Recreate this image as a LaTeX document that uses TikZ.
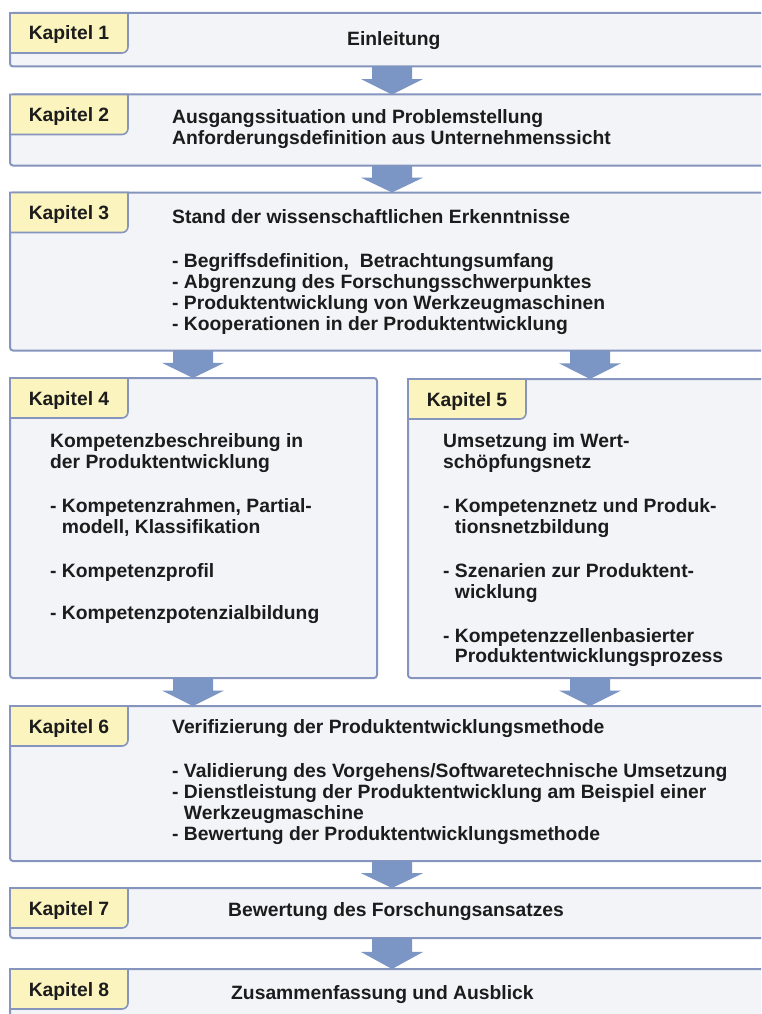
\documentclass[tikz,border=0pt]{standalone}
\usepackage{fontspec}
\setmainfont{Liberation Sans}
\usetikzlibrary{calc}

\definecolor{boxfill}{HTML}{F3F4F8}
\definecolor{boxline}{HTML}{8595BD}
\definecolor{kapfill}{HTML}{FBF4BE}
\definecolor{arrowfill}{HTML}{7B96C4}
\definecolor{textcol}{HTML}{1C1C1C}

\tikzset{
  chapbox/.style={draw=boxline, fill=boxfill, line width=2pt, rounded corners=3pt,
    inner sep=0pt, outer sep=0pt, anchor=north west},
  kapframe/.style={draw=boxline, fill=kapfill, line width=1.6pt},
  kaptext/.style={anchor=base, inner sep=0pt, text=textcol,
    font=\fontsize{19.3}{20.8}\selectfont\bfseries},
  txt/.style={anchor=base west, inner sep=0pt, text=textcol,
    font=\fontsize{19.3}{20.8}\selectfont\bfseries},
  blockarrow/.style={fill=arrowfill}
}

% chapter tab: name, left x, top y, label
\newcommand\kapitel[4]{%
  \filldraw[kapframe] (#2,#3) -- (#2+118,#3) -- (#2+118,#3-34)
    arc[start angle=0,end angle=-90,radius=6] -- (#2,#3-40) -- cycle;
  \node[kaptext] (#1) at (#2+59,#3-27) {#4};}

% one line of text: name, x, baseline y, text
\newcommand\txtline[4]{\node[txt] (#1) at (#2,#3) {#4};}

% broad downward arrow between two boxes: upper, lower, x
\newcommand\flowarrow[3]{%
  \fill[blockarrow] let \p1=(#1.south), \p2=(#2.north) in
    ({#3-20},\y1) -- ({#3+20},\y1) -- ({#3+20},{\y1-0.45*(\y1-\y2)})
    -- ({#3+31},{\y1-0.45*(\y1-\y2)}) -- (#3,\y2)
    -- ({#3-31},{\y1-0.45*(\y1-\y2)}) -- ({#3-20},{\y1-0.45*(\y1-\y2)}) -- cycle;}

\newcommand\ind{\phantom{- }}

\begin{document}
\begin{tikzpicture}[x=1pt,y=1pt]
\useasboundingbox (0,0) rectangle (761,-1014);
\clip (0,0) rectangle (761,-1014);
\fill[white] (0,0) rectangle (761,-1014);

% chapter boxes
\node[chapbox, minimum width=762pt, minimum height=53.5pt] (b1) at (10,-13) {};
\node[chapbox, minimum width=762pt, minimum height=71pt] (b2) at (10,-94.5) {};
\node[chapbox, minimum width=762pt, minimum height=158pt] (b3) at (10,-192.5) {};
\node[chapbox, minimum width=367pt, minimum height=300pt] (b4) at (10,-378) {};
\node[chapbox, minimum width=364pt, minimum height=299pt] (b5) at (408,-379) {};
\node[chapbox, minimum width=762pt, minimum height=155pt] (b6) at (10,-706) {};
\node[chapbox, minimum width=762pt, minimum height=50pt] (b7) at (10,-888) {};
\node[chapbox, minimum width=762pt, minimum height=70pt] (b8) at (10,-969) {};

% arrows between chapters
\flowarrow{b1}{b2}{392}
\flowarrow{b2}{b3}{392}
\flowarrow{b3}{b4}{193}
\flowarrow{b3}{b5}{590}
\flowarrow{b4}{b6}{193}
\flowarrow{b5}{b6}{590}
\flowarrow{b6}{b7}{392}
\flowarrow{b7}{b8}{392}

% chapter tabs
\kapitel{k1}{10}{-13}{Kapitel 1}
\kapitel{k2}{10}{-94.5}{Kapitel 2}
\kapitel{k3}{10}{-192.5}{Kapitel 3}
\kapitel{k4}{10}{-378}{Kapitel 4}
\kapitel{k5}{408}{-379}{Kapitel 5}
\kapitel{k6}{10}{-706}{Kapitel 6}
\kapitel{k7}{10}{-888}{Kapitel 7}
\kapitel{k8}{10}{-969}{Kapitel 8}

% Kapitel 1
\txtline{t1}{347}{-46}{Einleitung}

% Kapitel 2
\txtline{t2a}{172}{-124}{Ausgangssituation und Problemstellung}
\txtline{t2b}{172}{-145}{Anforderungsdefinition aus Unternehmenssicht}

% Kapitel 3
\txtline{t3}{172}{-223}{Stand der wissenschaftlichen Erkenntnisse}
\txtline{t3a}{172}{-267}{- Begriffsdefinition,\ \ Betrachtungsumfang}
\txtline{t3b}{172}{-288}{- Abgrenzung des Forschungsschwerpunktes}
\txtline{t3c}{172}{-309}{- Produktentwicklung von Werkzeugmaschinen}
\txtline{t3d}{172}{-330}{- Kooperationen in der Produktentwicklung}

% Kapitel 4
\txtline{t4a}{50}{-447}{Kompetenzbeschreibung in}
\txtline{t4b}{50}{-468}{der Produktentwicklung}
\txtline{t4c}{50}{-512}{- Kompetenzrahmen, Partial-}
\txtline{t4d}{50}{-533}{\ind modell, Klassifikation}
\txtline{t4e}{50}{-577}{- Kompetenzprofil}
\txtline{t4f}{50}{-619}{- Kompetenzpotenzialbildung}

% Kapitel 5
\txtline{t5a}{443}{-447}{Umsetzung im Wert-}
\txtline{t5b}{443}{-468}{schöpfungsnetz}
\txtline{t5c}{443}{-512}{- Kompetenznetz und Produk-}
\txtline{t5d}{443}{-533}{\ind tionsnetzbildung}
\txtline{t5e}{443}{-577}{- Szenarien zur Produktent-}
\txtline{t5f}{443}{-598}{\ind wicklung}
\txtline{t5g}{443}{-642}{- Kompetenzzellenbasierter}
\txtline{t5h}{443}{-662}{\ind Produktentwicklungsprozess}

% Kapitel 6
\txtline{t6}{172}{-733}{Verifizierung der Produktentwicklungsmethode}
\txtline{t6a}{172}{-777}{- Validierung des Vorgehens/Softwaretechnische Umsetzung}
\txtline{t6b}{172}{-798}{- Dienstleistung der Produktentwicklung am Beispiel einer}
\txtline{t6c}{172}{-819}{\ind Werkzeugmaschine}
\txtline{t6d}{172}{-840}{- Bewertung der Produktentwicklungsmethode}

% Kapitel 7 and 8
\txtline{t7}{228}{-916}{Bewertung des Forschungsansatzes}
\txtline{t8}{231}{-999}{Zusammenfassung und Ausblick}
\end{tikzpicture}
\end{document}
